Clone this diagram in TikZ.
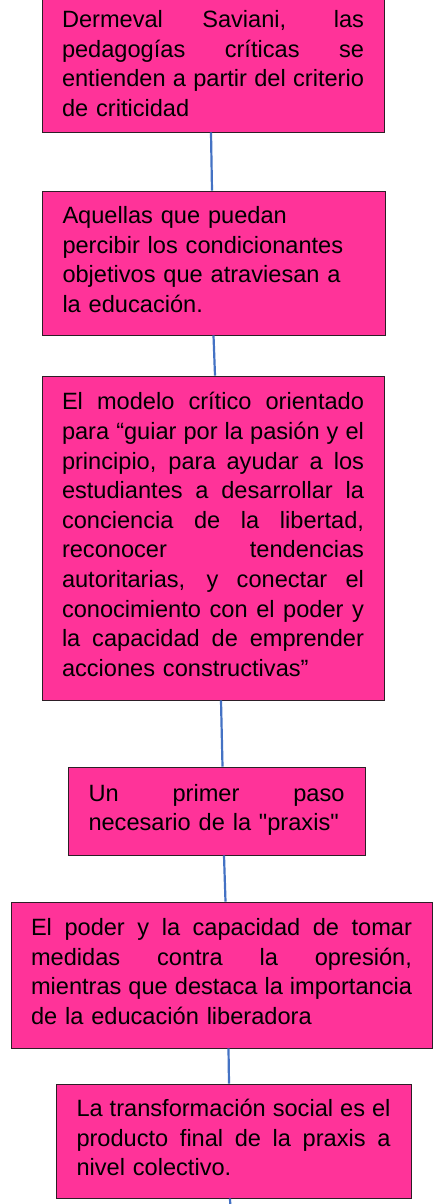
\documentclass[tikz,border=0pt]{standalone}
\usepackage{fontspec}
\setmainfont{Liberation Sans}
\definecolor{boxpink}{RGB}{255,51,153}
\definecolor{linkblue}{RGB}{68,114,196}
\definecolor{boxedge}{RGB}{45,30,38}
\newcommand\jline[1]{\leavevmode\hbox to \hsize{\spaceskip=0.28em plus 2em minus 0.05em #1}\\}
\newcommand\fstrut[1]{\rule{0pt}{#1}}
\newcommand\lstrut{\rule[-7pt]{0pt}{7pt}}
\newcommand\sq{\XeTeXglyph\XeTeXcharglyph"22\relax}
\tikzset{
  box/.style={draw=boxedge, line width=0.9pt, fill=boxpink, inner sep=0pt,
    font=\fontsize{23.6}{29.6}\selectfont},
  link/.style={draw=linkblue, line width=2.2pt}
}
\begin{document}
\begin{tikzpicture}[x=1pt,y=-1pt]
\clip (0,0) rectangle (435,1204);
\fill[white] (0,0) rectangle (435,1204);

\node[box, minimum width=342, minimum height=143, text width=302] (n1) at (213,60.5)
{\fstrut{30pt}\jline{Dermeval Saviani, las}\jline{pedagogías críticas se}\jline{entienden a partir del criterio}de criticidad\lstrut};

\node[box, minimum width=343, minimum height=144, text width=302] (n2) at (213.5,263)
{\fstrut{17pt}Aquellas que puedan\\percibir los condicionantes\\objetivos que atraviesan a\\la educación.\lstrut};

\node[box, minimum width=342, minimum height=324, text width=302] (n3) at (213,538)
{\fstrut{17pt}\jline{El modelo crítico orientado}\jline{para “guiar por la pasión y el}\jline{principio, para ayudar a los}\jline{estudiantes a desarrollar la}\jline{conciencia de la libertad,}\jline{reconocer tendencias}\jline{autoritarias, y conectar el}\jline{conocimiento con el poder y}\jline{la capacidad de emprender}acciones constructivas”\lstrut};

\node[box, minimum width=297, minimum height=88, text width=256] (n4) at (216.5,811)
{\fstrut{17pt}\jline{Un primer paso}necesario de la \sq praxis\sq\lstrut};

\node[box, minimum width=421, minimum height=146, text width=381] (n5) at (221.5,975)
{\fstrut{17pt}\jline{El poder y la capacidad de tomar}\jline{medidas contra la opresión,}\jline{mientras que destaca la importancia}de la educación liberadora\lstrut};

\node[box, minimum width=355, minimum height=114, text width=314] (n6) at (233.5,1141)
{\fstrut{17pt}\jline{La transformación social es el}\jline{producto final de la praxis a}nivel colectivo.\lstrut};

\coordinate (tail) at (230.5,1210);

\draw[link] ([xshift=-2]n1.south) -- ([xshift=-1.5]n2.north);
\draw[link] ([xshift=0]n2.south) -- ([xshift=2]n3.north);
\draw[link] ([xshift=8]n3.south) -- ([xshift=6]n4.north);
\draw[link] ([xshift=7.5]n4.south) -- ([xshift=4]n5.north);
\draw[link] ([xshift=7]n5.south) -- ([xshift=-4.5]n6.north);
\draw[link] ([xshift=-3.5]n6.south) -- (tail);
\end{tikzpicture}
\end{document}
